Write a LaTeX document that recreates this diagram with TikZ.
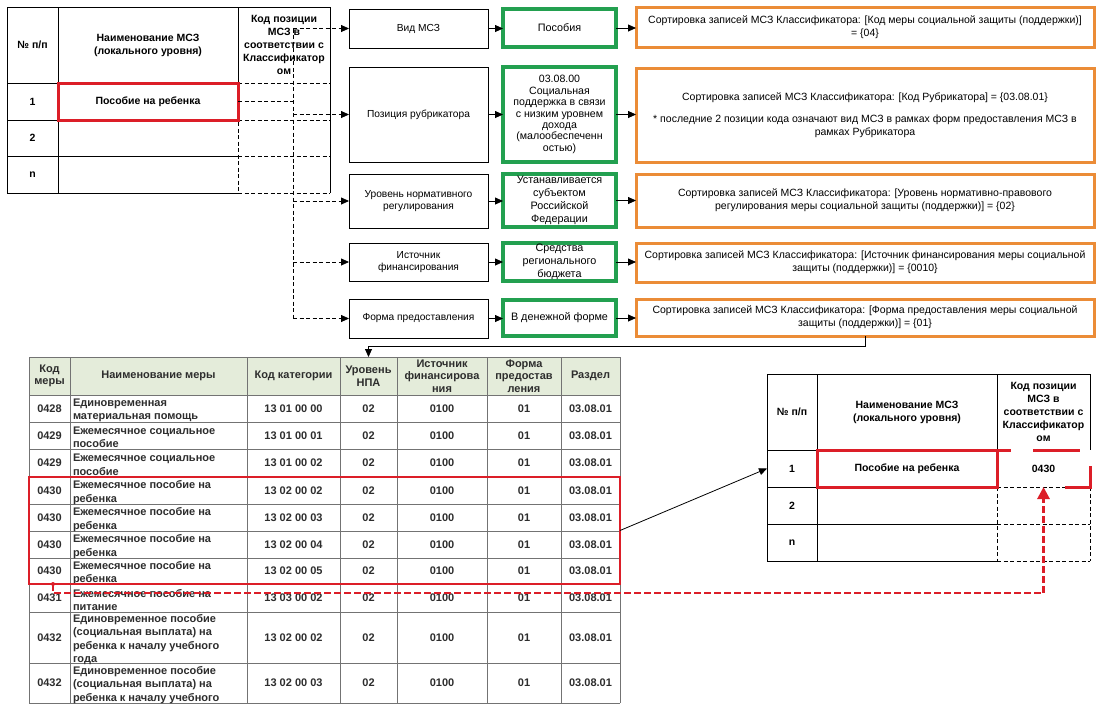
\documentclass[tikz,border=0pt]{standalone}
\usepackage{fontspec}
\setmainfont{Liberation Sans}
\usetikzlibrary{arrows.meta}
\definecolor{mygreen}{RGB}{35,160,80}
\definecolor{myorange}{RGB}{235,140,55}
\definecolor{myred}{RGB}{220,30,40}
\definecolor{hdgreen}{RGB}{228,236,218}
\definecolor{tgray}{RGB}{45,45,45}
\newcommand\myfs[2]{\fontsize{#1}{#2}\selectfont}
\newcommand\mybox[6]{\node[#1,minimum width={#4pt-#2pt},minimum height={#5pt-#3pt}] (#6) at ({(#2+#4)/2},{(#3+#5)/2})}
\newcommand\trow[6]{%
 \node[tc] (#1a) at (49.5,{(#2+#3)/2}) {#4};
 \node[tn] (#1b) at (73,{(#2+#3)/2+2}) {#5};
 \node[tc] (#1c) at (293.5,{(#2+#3)/2}) {#6};
 \node[tc] (#1d) at (368.5,{(#2+#3)/2}) {02};
 \node[tc] (#1e) at (442,{(#2+#3)/2}) {0100};
 \node[tc] (#1f) at (524,{(#2+#3)/2}) {01};
 \node[tc] (#1g) at (590.5,{(#2+#3)/2}) {03.08.01};
}
\begin{document}
\begin{tikzpicture}[x=1pt,y=-1pt,
  chain/.style={draw=black,line width=0.8pt,fill=white,align=center,inner sep=1pt,outer sep=0pt,font=\myfs{10.2}{12.8}},
  gbox/.style={draw=mygreen,line width=3.2pt,fill=white,align=center,inner sep=1pt,outer sep=0pt,font=\myfs{10.8}{13}},
  obox/.style={draw=myorange,line width=3pt,fill=white,align=center,inner sep=1pt,outer sep=0pt,font=\myfs{10.5}{12.8}},
  cell/.style={inner sep=0pt,outer sep=0pt,align=center},
  hd/.style={cell,font=\bfseries\myfs{10.5}{13}},
  redcell/.style={hd,draw=myred,line width=3pt},
  thd/.style={cell,text=tgray,font=\bfseries\myfs{11}{12.5}},
  tc/.style={cell,text=tgray,font=\bfseries\myfs{11}{13.5}},
  tn/.style={tc,anchor=west,align=left},
  tline/.style={line width=0.8pt,black},
  tdash/.style={line width=0.8pt,black,dash pattern=on 4pt off 2.5pt},
  gline/.style={line width=1pt,black!55},
  arr/.style={line width=0.8pt,-{Triangle[length=8pt,width=7pt]}},
  darr/.style={tdash,-{Triangle[length=8pt,width=7pt]}},
  reddash/.style={myred,line width=2.8pt,dash pattern=on 7pt off 3pt}
]
\useasboundingbox (0,0) rectangle (1102,710);
\fill[white] (0,0) rectangle (1102,710);

% ---------- top-left table ----------
\draw[tline] (238,7) -- (7,7) -- (7,193) -- (238,193);
\draw[tline] (58,7) -- (58,193);
\draw[tline] (238,7) -- (238,83);
\draw[tline] (7,83) -- (238,83) (7,120) -- (238,120) (7,156) -- (238,156);
\draw[tline] (238,7) -- (330,7) -- (330,193);
\draw[tdash] (238,83) -- (330,83) (238,120) -- (330,120) (238,156) -- (330,156) (238,193) -- (330,193);
\draw[tdash] (238,83) -- (238,193);
\mybox{hd}{7}{7}{58}{83}{tlh1}{№ п/п};
\mybox{hd}{58}{7}{238}{83}{tlh2}{Наименование МСЗ\\(локального уровня)};
\mybox{hd}{238}{7}{330}{83}{tlh3}{Код позиции\\МСЗ в\\соответствии с\\Классификатор\\ом};
\mybox{hd}{7}{83}{58}{120}{tlr1}{1};
\mybox{redcell}{58}{83}{238}{120}{tln}{Пособие на ребенка};
\mybox{cell}{238}{83}{330}{120}{tlcode}{};
\mybox{hd}{7}{120}{58}{156}{tlr2}{2};
\mybox{hd}{7}{156}{58}{193}{tlr3}{n};

% ---------- chain ----------
\mybox{chain}{349}{9}{488}{48}{vid}{Вид МСЗ};
\mybox{chain}{349}{67}{488}{162}{poz}{Позиция рубрикатора};
\mybox{chain}{349}{174}{488}{228}{ur}{Уровень нормативного\\регулирования};
\mybox{chain}{349}{243}{488}{281}{ist}{Источник\\финансирования};
\mybox{chain}{349}{299}{488}{338}{form}{Форма предоставления};

\mybox{gbox}{503}{9}{616}{47}{g1}{Пособия};
\mybox{gbox,font=\myfs{10.6}{11.4}}{503}{67}{616}{162}{g2}{03.08.00\\Социальная\\поддержка в связи\\с низким уровнем\\дохода\\(малообеспеченн\\остью)};
\mybox{gbox}{503}{174}{616}{227}{g3}{Устанавливается\\субъектом\\Российской\\Федерации};
\mybox{gbox}{503}{243}{616}{281}{g4}{Средства\\регионального\\бюджета};
\mybox{gbox}{503}{300}{616}{336}{g5}{В денежной форме};

\mybox{obox}{636}{7}{1094}{47}{o1}{Сортировка записей МСЗ Классификатора: [Код меры социальной защиты (поддержки)]\\= \{04\}};
\mybox{obox}{636}{68}{1094}{162}{o2}{Сортировка записей МСЗ Классификатора: [Код Рубрикатора] = \{03.08.01\}\\[9pt]* последние 2 позиции кода означают вид МСЗ в рамках форм предоставления МСЗ в\\рамках Рубрикатора};
\mybox{obox}{636}{174}{1094}{227}{o3}{Сортировка записей МСЗ Классификатора: [Уровень нормативно-правового\\регулирования меры социальной защиты (поддержки)] = \{02\}};
\mybox{obox}{636}{243}{1094}{282}{o4}{Сортировка записей МСЗ Классификатора: [Источник финансирования меры социальной\\защиты (поддержки)] = \{0010\}};
\mybox{obox}{636}{299}{1094}{336}{o5}{Сортировка записей МСЗ Классификатора: [Форма предоставления меры социальной\\защиты (поддержки)] = \{01\}};

\foreach \a/\b/\c in {vid/g1/o1,poz/g2/o2,ur/g3/o3,ist/g4/o4,form/g5/o5}{
  \draw[arr] (\a.east) -- (\a.east -| \b.west);
  \draw[arr] (\b.east) -- (\b.east -| \c.west);
}

% dashed trunk
\coordinate (tk) at (293,28.5);
\draw[tdash] (tk) -- (tk |- form.west);
\draw[tdash] (tlcode.west) -- (tlcode.west -| tk);
\foreach \n in {vid,poz,ur,ist,form}{
  \draw[darr] (tk |- \n.west) -- (\n.west);
}

% ---------- bottom table ----------
\fill[hdgreen] (29,357) rectangle (620,395);
\foreach \yy in {357,395,422,449,477,504,531,558,584,612,663,703}{
  \draw[gline] (29,\yy) -- (620,\yy);
}
\foreach \xx in {29,70,247,340,397,487,561,620}{
  \draw[gline] (\xx,357) -- (\xx,703);
}
\mybox{thd}{29}{357}{70}{395}{h1}{Код\\меры};
\mybox{thd}{70}{357}{247}{395}{h2}{Наименование меры};
\mybox{thd}{247}{357}{340}{395}{h3}{Код категории};
\mybox{thd}{340}{357}{397}{395}{h4}{Уровень\\НПА};
\mybox{thd}{397}{357}{487}{395}{h5}{Источник\\финансирова\\ния};
\mybox{thd}{487}{357}{561}{395}{h6}{Форма\\предостав\\ления};
\mybox{thd}{561}{357}{620}{395}{h7}{Раздел};

\trow{ra}{395}{422}{0428}{Единовременная\\материальная помощь}{13 01 00 00}
\trow{rb}{422}{449}{0429}{Ежемесячное социальное\\пособие}{13 01 00 01}
\trow{rc}{449}{477}{0429}{Ежемесячное социальное\\пособие}{13 01 00 02}
\trow{rd}{477}{504}{0430}{Ежемесячное пособие на\\ребенка}{13 02 00 02}
\trow{re}{504}{531}{0430}{Ежемесячное пособие на\\ребенка}{13 02 00 03}
\trow{rf}{531}{558}{0430}{Ежемесячное пособие на\\ребенка}{13 02 00 04}
\trow{rg}{558}{584}{0430}{Ежемесячное пособие на\\ребенка}{13 02 00 05}
\trow{rh}{584}{612}{0431}{Ежемесячное пособие на\\питание}{13 03 00 02}
\trow{ri}{612}{663}{0432}{Единовременное пособие\\(социальная выплата) на\\ребенка к началу учебного\\года}{13 02 00 02}
\trow{rj}{663}{703}{0432}{Единовременное пособие\\(социальная выплата) на\\ребенка к началу учебного}{13 02 00 03}

\mybox{cell,draw=myred,line width=1.3pt}{29}{477}{620}{584}{redsel}{};

% arrow from classifier to form
\draw[arr] (o5.south) -- ++(0,10) -| (h4.north);

% ---------- bottom-right table ----------
\draw[tline] (997,374) -- (767,374) -- (767,561) -- (997,561);
\draw[tline] (817,374) -- (817,561);
\draw[tline] (997,374) -- (997,487);
\draw[tline] (767,450) -- (997,450) (767,487) -- (997,487) (767,524) -- (997,524);
\draw[tline] (997,374) -- (1090,374) -- (1090,450);
\draw[tdash] (997,487) -- (1090,487) (997,524) -- (1090,524) (997,561) -- (1090,561);
\draw[tdash] (997,487) -- (997,561) (1090,487) -- (1090,561);
\mybox{hd}{767}{374}{817}{450}{brh1}{№ п/п};
\mybox{hd}{817}{374}{997}{450}{brh2}{Наименование МСЗ\\(локального уровня)};
\mybox{hd}{997}{374}{1090}{450}{brh3}{Код позиции\\МСЗ в\\соответствии с\\Классификатор\\ом};
\mybox{hd}{767}{450}{817}{487}{br1}{1};
\mybox{redcell}{817}{450}{997}{487}{brn}{Пособие на ребенка};
\mybox{hd}{997}{450}{1090}{487}{brcode}{0430};
\mybox{hd}{767}{487}{817}{524}{br2}{2};
\mybox{hd}{767}{524}{817}{561}{br3}{n};
\draw[myred,line width=3pt,dash pattern=on 14pt off 22pt on 47pt off 26pt on 46pt off 70pt] (997,450) -- (1090,450) -- (1090,487) -- (997,487);

\draw[arr] (redsel.east) -- (br1.west);

% red dashed link
\coordinate (rd0) at (53,584);
\fill[myred] (rd0) circle (2pt);
\draw[reddash,-{Triangle[length=12pt,width=12pt]}] (rd0) -- ++(0,9) -| (brcode.south);
\end{tikzpicture}
\end{document}
